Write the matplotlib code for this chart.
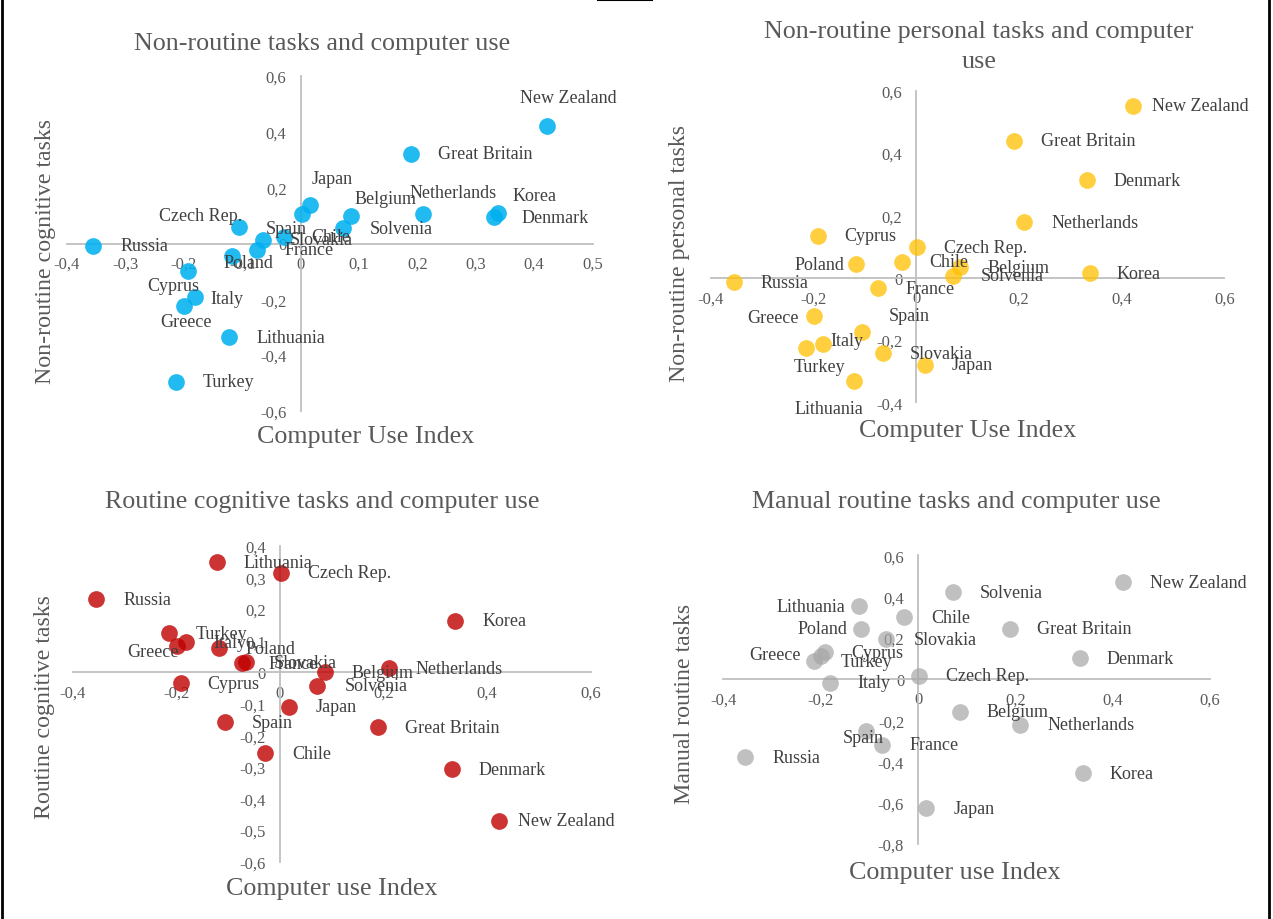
import matplotlib
matplotlib.use("Agg")
import matplotlib.pyplot as plt
from matplotlib.ticker import FuncFormatter, MultipleLocator
from matplotlib.lines import Line2D

plt.rcParams['font.family'] = ['Liberation Serif', 'DejaVu Serif']

W, H = 1273, 920

countries = ["New Zealand", "Great Britain", "Denmark", "Korea", "Netherlands",
             "Belgium", "Solvenia", "Japan", "Czech Rep.", "Chile", "Slovakia",
             "France", "Spain", "Poland", "Lithuania", "Italy", "Cyprus",
             "Greece", "Turkey", "Russia"]

computer_use = [0.422, 0.190, 0.332, 0.338, 0.210, 0.086, 0.072, 0.017, 0.002, -0.028,
                -0.065, -0.074, -0.106, -0.118, -0.122, -0.181, -0.192, -0.199, -0.214, -0.355]

nonroutine_cognitive = [0.420, 0.321, 0.094, 0.109, 0.107, 0.100, 0.054, 0.139, 0.106, 0.024,
                        0.013, -0.023, 0.060, -0.046, -0.336, -0.193, -0.097, -0.225, -0.495, -0.008]

nonroutine_personal = [0.552, 0.440, 0.313, 0.015, 0.178, 0.033, 0.006, -0.279, 0.098, 0.051,
                       -0.242, -0.033, -0.175, 0.044, -0.330, -0.213, 0.135, -0.124, -0.227, -0.015]

routine_cognitive = [-0.470, -0.175, -0.307, 0.162, 0.012, -0.001, -0.043, -0.110, 0.315, -0.257,
                     0.031, 0.028, -0.159, 0.075, 0.347, 0.094, -0.035, 0.083, 0.123, 0.231]

manual_routine = [0.469, 0.243, 0.100, -0.458, -0.223, -0.159, 0.421, -0.628, 0.016, 0.300,
                  0.194, -0.320, -0.251, 0.243, 0.353, -0.019, 0.131, 0.110, 0.085, -0.380]

# label placement (pixels, y down), default is right of the point
default_nudge = (27, 0, 'left')
label_nudges = [
    {"New Zealand": (21, -29, 'center'), "Netherlands": (30, -21, 'center'),
     "Korea": (37, -18, 'center'), "Belgium": (35, -17, 'center'),
     "Japan": (22, -26, 'center'), "Czech Rep.": (-101, 2, 'center'),
     "Poland": (17, 6, 'center'), "Cyprus": (-15, 15, 'center'),
     "Italy": (16, 1, 'left'), "Greece": (2, 15, 'center'), "Spain": (27, 2, 'left')},
    {"New Zealand": (19, 0, 'left'), "Poland": (-11, 0, 'right'),
     "Spain": (27, -17, 'left'), "Italy": (7, -4, 'left'),
     "Turkey": (13, 18, 'center'), "Greece": (-15, 1, 'right'),
     "Lithuania": (-25, 28, 'center')},
    {"Greece": (2, 6, 'right'), "New Zealand": (19, 0, 'left')},
    {"Lithuania": (-13, 0, 'right'), "Poland": (-13, 0, 'right'),
     "Greece": (-20, -2, 'right'), "Spain": (-3, 7, 'center')},
]

panels = [
    dict(y=nonroutine_cognitive, color='#00B0F0', alpha=0.87,
         title="Non-routine tasks and computer use", title_xy=(322, 44),
         xlabel="Computer Use Index", xlabel_xy=(366, 437),
         ylabel="Non-routine cognitive tasks", ylabel_xy=(46, 252),
         rect=(66.9, 77.1, 592.5, 411.9), xlim=(-0.4, 0.5), ylim=(-0.6, 0.6),
         xstep=0.1, ystep=0.2),
    dict(y=nonroutine_personal, color='#FFC000', alpha=0.75,
         title="Non-routine personal tasks and computer\nuse", title_xy=(979, 47),
         xlabel="Computer Use Index", xlabel_xy=(968, 431),
         ylabel="Non-routine personal tasks", ylabel_xy=(680, 254),
         rect=(710.9, 91.7, 1224.4, 403.4), xlim=(-0.4, 0.6), ylim=(-0.4, 0.6),
         xstep=0.2, ystep=0.2),
    dict(y=routine_cognitive, color='#C00000', alpha=0.8,
         title="Routine cognitive tasks and computer use", title_xy=(322, 502),
         xlabel="Computer use Index", xlabel_xy=(332, 889),
         ylabel="Routine cognitive tasks", ylabel_xy=(45, 707),
         rect=(72.8, 546.7, 590.8, 862.7), xlim=(-0.4, 0.6), ylim=(-0.6, 0.4),
         xstep=0.2, ystep=0.1),
    dict(y=manual_routine, color='#A6A6A6', alpha=0.7,
         title="Manual routine tasks and computer use", title_xy=(956, 502),
         xlabel="Computer use Index", xlabel_xy=(955, 873),
         ylabel="Manual routine tasks", ylabel_xy=(685, 704),
         rect=(723.4, 556.4, 1210.0, 844.8), xlim=(-0.4, 0.6), ylim=(-0.8, 0.6),
         xstep=0.2, ystep=0.2),
]


def comma_fmt(v, pos):
    if abs(v) < 1e-9:
        return "0"
    return ("%.1f" % v).replace(".", ",")


def fx(x):
    return x / W


def fy(y):
    return 1 - y / H


fig = plt.figure(figsize=(W / 100, H / 100), dpi=100)

for p, nudges in zip(panels, label_nudges):
    l, t, r, b = p["rect"]
    ax = fig.add_axes([l / W, 1 - b / H, (r - l) / W, (b - t) / H])
    ax.set_xlim(*p["xlim"])
    ax.set_ylim(*p["ylim"])
    ax.patch.set_alpha(0)
    for side in ["top", "right"]:
        ax.spines[side].set_visible(False)
    for side in ["left", "bottom"]:
        ax.spines[side].set_position(('data', 0))
        ax.spines[side].set_color('#BFBFBF')
        ax.spines[side].set_linewidth(1.3)
    ax.xaxis.set_major_locator(MultipleLocator(p["xstep"]))
    ax.yaxis.set_major_locator(MultipleLocator(p["ystep"]))
    ax.xaxis.set_major_formatter(FuncFormatter(comma_fmt))
    ax.yaxis.set_major_formatter(FuncFormatter(comma_fmt))
    ax.tick_params(axis='both', length=0, labelsize=12, labelcolor='#595959')
    ax.tick_params(axis='y', pad=10)
    ax.tick_params(axis='x', pad=9)

    ax.scatter(computer_use, p["y"], s=145, color=p["color"], alpha=p["alpha"],
               linewidths=0, zorder=3, clip_on=False)
    for name, xv, yv in zip(countries, computer_use, p["y"]):
        dx, dy, ha = nudges.get(name, default_nudge)
        ax.annotate(name, (xv, yv), xytext=(dx, -dy), textcoords='offset pixels',
                    ha=ha, va='center', fontsize=13, color='#404040', zorder=4,
                    annotation_clip=False)

    fig.text(fx(p["title_xy"][0]), fy(p["title_xy"][1]), p["title"], ha='center',
             va='center', fontsize=18.7, color='#595959', linespacing=1.42)
    fig.text(fx(p["xlabel_xy"][0]), fy(p["xlabel_xy"][1]), p["xlabel"], ha='center',
             va='center', fontsize=18.7, color='#595959')
    fig.text(fx(p["ylabel_xy"][0]), fy(p["ylabel_xy"][1]), p["ylabel"], ha='center',
             va='center', fontsize=17.2, color='#595959', rotation=90)

# frame around the picture
fig.add_artist(Line2D([fx(1.5), fx(1.5)], [0, 1], color='black', lw=2))
fig.add_artist(Line2D([fx(1268.5), fx(1268.5)], [0, 1], color='black', lw=2))
fig.add_artist(Line2D([fx(598), fx(652)], [fy(1), fy(1)], color='black', lw=1.5))

fig.savefig("out.png", dpi=100)
